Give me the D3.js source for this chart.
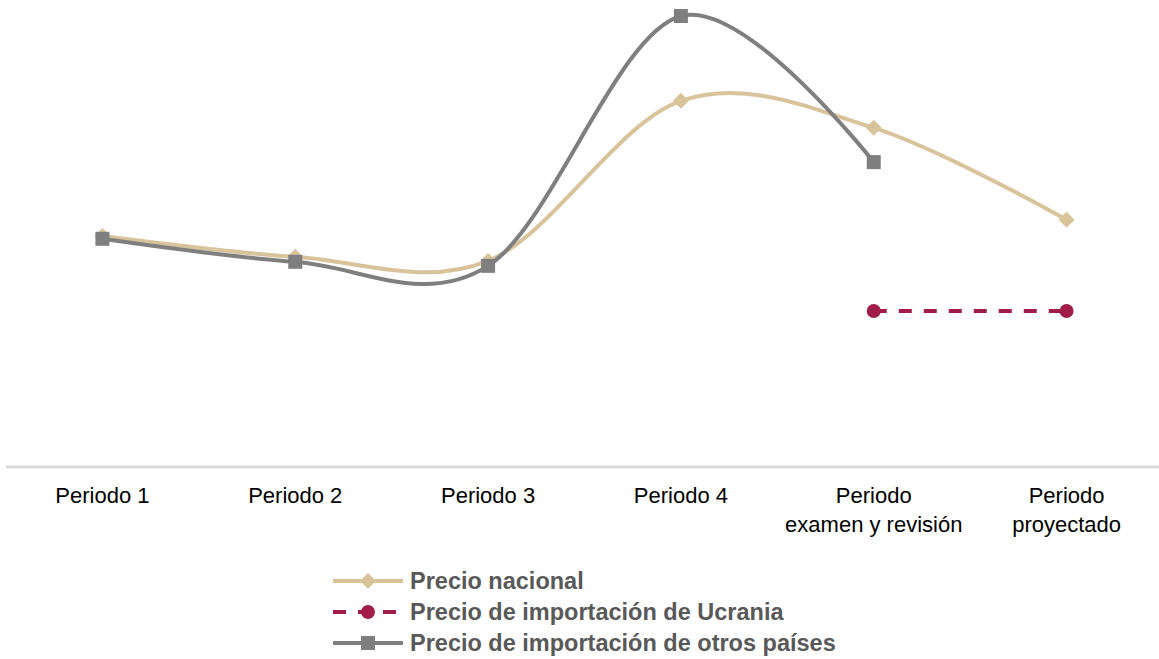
<!DOCTYPE html>
<html>
<head>
<meta charset="utf-8">
<script src="https://cdn.jsdelivr.net/npm/d3@7"></script>
<style>
  body { margin: 0; background: #fff; }
  svg { display: block; font-family: "Liberation Sans", Arial, sans-serif; }
</style>
</head>
<body>
<svg id="chart" width="1159" height="659"></svg>
<script>
// chart data (index, no y axis shown)
var categories = [['Periodo 1'], ['Periodo 2'], ['Periodo 3'], ['Periodo 4'],
  ['Periodo', 'examen y revisión'], ['Periodo', 'proyectado']];
var nacional = [51.2, 46.6, 45.7, 81.2, 75.2, 54.8];
var ucrania = [null, null, null, null, 34.6, 34.6];
var otros = [50.6, 45.5, 44.6, 100, 67.6, null];
var seriesNames = ['Precio nacional', 'Precio de importación de Ucrania', 'Precio de importación de otros países'];

(function() {
  var svg = d3.select('#chart');
  var x, y, series, g, legend;

  x = d3.scalePoint().domain(d3.range(categories.length)).range([6, 1163]).padding(0.5);
  y = d3.scaleLinear().domain([0, 100]).range([467, 16]);

  series = [
    { name: seriesNames[0], values: nacional, color: '#d8c39b', marker: 'diamond', dash: null },
    { name: seriesNames[1], values: ucrania, color: '#a11d47', marker: 'circle', dash: '13,12' },
    { name: seriesNames[2], values: otros, color: '#7f7f7f', marker: 'square', dash: null }
  ];

  // axis line
  svg.append('line').attr('x1', 6).attr('x2', 1159).attr('y1', y(0)).attr('y2', y(0))
    .attr('stroke', '#d9d9d9').attr('stroke-width', 3);

  // category labels
  var lab = svg.append('g').selectAll('text').data(categories).enter().append('text')
    .attr('text-anchor', 'middle').attr('font-size', 22).attr('fill', '#000')
    .attr('x', function(d, i) { return x(i); }).attr('y', 503);
  lab.selectAll('tspan').data(function(d) { return d; }).enter().append('tspan')
    .attr('x', function() { return d3.select(this.parentNode).attr('x'); })
    .attr('dy', function(d, i) { return i ? 29 : 0; })
    .text(function(d) { return d; });

  function marker(sel, type, color) {
    if (type === 'diamond') {
      sel.append('path').attr('d', 'M0,-8L8,0L0,8L-8,0Z').attr('fill', color);
    } else if (type === 'circle') {
      sel.append('circle').attr('r', 7).attr('fill', color);
    } else {
      sel.append('rect').attr('x', -7).attr('y', -7).attr('width', 14).attr('height', 14).attr('fill', color);
    }
  }

  series.forEach(function(s) {
    g = svg.append('g');
    var pts = s.values.map(function(v, i) { return { v: v, i: i }; }).filter(function(d) { return d.v != null; });
    g.append('path')
      .attr('d', d3.line().x(function(d) { return x(d.i); }).y(function(d) { return y(d.v); })
        .curve(d3.curveCardinal.tension(0))(pts))
      .attr('fill', 'none').attr('stroke', s.color).attr('stroke-width', 4)
      .attr('stroke-dasharray', s.dash);
    g.selectAll('g.m').data(pts).enter().append('g')
      .attr('transform', function(d) { return 'translate(' + x(d.i) + ',' + y(d.v) + ')'; })
      .each(function() { marker(d3.select(this), s.marker, s.color); });
  });

  // legend
  legend = svg.append('g').selectAll('g').data(series).enter().append('g')
    .attr('transform', function(d, i) { return 'translate(333,' + (581 + i * 31) + ')'; });
  legend.append('line').attr('x1', 0).attr('x2', 70).attr('y1', 0).attr('y2', 0)
    .attr('stroke', function(d) { return d.color; }).attr('stroke-width', 4)
    .attr('stroke-dasharray', function(d) { return d.dash ? '13,12' : null; });
  legend.each(function(d) {
    var m = d3.select(this).append('g').attr('transform', 'translate(35,0)');
    marker(m, d.marker, d.color);
  });
  legend.append('text').attr('x', 77).attr('y', 8).attr('font-size', 23.5).attr('font-weight', 'bold')
    .attr('fill', '#595959').text(function(d) { return d.name; });
})();
</script>
</body>
</html>
